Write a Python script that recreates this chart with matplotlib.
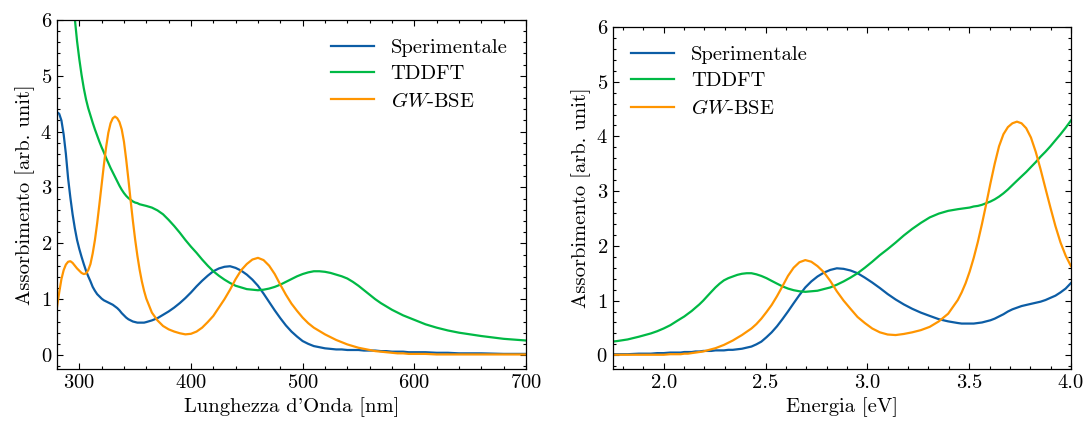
import numpy as np
import matplotlib
matplotlib.use("Agg")
import matplotlib.pyplot as plt
from matplotlib.ticker import MultipleLocator

plt.rcParams['font.family'] = ['cmr10', 'DejaVu Serif']
plt.rcParams['mathtext.fontset'] = 'cm'
plt.rcParams['axes.formatter.use_mathtext'] = True
plt.rcParams['font.size'] = 14.8

# wavelength grid [nm]
wavelength = [280, 282, 284, 286, 288, 290, 292, 294, 296, 298,
              300, 302, 304, 306, 308, 310, 312, 314, 316, 318,
              320, 322, 324, 326, 328, 330, 332, 334, 336, 338,
              340, 342, 344, 346, 348, 350, 352, 354, 356, 358,
              360, 365, 370, 375, 380, 385, 390, 395, 400, 405,
              410, 415, 420, 425, 430, 435, 440, 445, 450, 455,
              460, 465, 470, 475, 480, 485, 490, 495, 500, 505,
              510, 515, 520, 525, 530, 535, 540, 545, 550, 555,
              560, 565, 570, 575, 580, 585, 590, 595, 600, 610,
              620, 630, 640, 660, 680, 700, 710]

sperimentale = [4.35, 4.32, 4.20, 3.95, 3.60, 3.16, 2.82, 2.52, 2.27, 2.06,
                1.90, 1.76, 1.63, 1.51, 1.41, 1.32, 1.22, 1.15, 1.09, 1.05,
                1.01, 0.98, 0.96, 0.94, 0.92, 0.90, 0.87, 0.84, 0.80, 0.75,
                0.71, 0.67, 0.64, 0.62, 0.60, 0.59, 0.58, 0.58, 0.58, 0.58,
                0.59, 0.62, 0.66, 0.72, 0.78, 0.85, 0.93, 1.02, 1.12, 1.23,
                1.33, 1.42, 1.50, 1.55, 1.58, 1.59, 1.56, 1.51, 1.44, 1.35,
                1.24, 1.10, 0.95, 0.80, 0.66, 0.53, 0.42, 0.33, 0.25, 0.20,
                0.16, 0.14, 0.12, 0.11, 0.10, 0.10, 0.09, 0.09, 0.09, 0.08,
                0.08, 0.08, 0.07, 0.07, 0.06, 0.06, 0.06, 0.05, 0.05, 0.05,
                0.04, 0.04, 0.03, 0.03, 0.02, 0.02, 0.02]

tddft = [9.0, 8.5, 8.0, 7.5, 7.0, 6.75, 6.5, 6.25, 6.02, 5.62,
         5.30, 5.02, 4.78, 4.58, 4.42, 4.29, 4.16, 4.04, 3.93, 3.82,
         3.72, 3.63, 3.53, 3.44, 3.35, 3.27, 3.19, 3.11, 3.03, 2.96,
         2.90, 2.85, 2.81, 2.78, 2.75, 2.73, 2.72, 2.70, 2.69, 2.68,
         2.67, 2.64, 2.59, 2.52, 2.42, 2.31, 2.19, 2.06, 1.94, 1.83,
         1.71, 1.60, 1.50, 1.42, 1.35, 1.29, 1.24, 1.21, 1.18, 1.17,
         1.16, 1.17, 1.19, 1.22, 1.26, 1.31, 1.36, 1.41, 1.45, 1.48,
         1.50, 1.50, 1.49, 1.47, 1.44, 1.41, 1.37, 1.31, 1.24, 1.16,
         1.08, 1.00, 0.93, 0.87, 0.81, 0.76, 0.71, 0.67, 0.63, 0.55,
         0.49, 0.44, 0.40, 0.34, 0.29, 0.26, 0.25]

gw_bse = [0.85, 1.12, 1.36, 1.52, 1.62, 1.67, 1.68, 1.65, 1.60, 1.55,
          1.51, 1.47, 1.45, 1.46, 1.52, 1.63, 1.82, 2.06, 2.36, 2.70,
          3.05, 3.40, 3.72, 3.98, 4.15, 4.24, 4.27, 4.24, 4.17, 4.04,
          3.82, 3.50, 3.14, 2.76, 2.40, 2.07, 1.78, 1.53, 1.32, 1.15,
          1.01, 0.76, 0.62, 0.52, 0.46, 0.42, 0.39, 0.37, 0.38, 0.42,
          0.49, 0.59, 0.70, 0.85, 1.00, 1.17, 1.36, 1.52, 1.63, 1.71,
          1.74, 1.70, 1.60, 1.45, 1.26, 1.08, 0.92, 0.79, 0.67, 0.57,
          0.49, 0.43, 0.37, 0.32, 0.27, 0.23, 0.19, 0.16, 0.13, 0.11,
          0.09, 0.07, 0.06, 0.05, 0.04, 0.03, 0.03, 0.02, 0.02, 0.02,
          0.01, 0.01, 0.01, 0.01, 0.01, 0.01, 0.01]

labels = ['Sperimentale', 'TDDFT', r'$GW$-BSE']
colors = ['#0C5DA5', '#00B945', '#FF9500']

lam = np.array(wavelength, dtype=float)
energy = 1239.84 / lam
series = [sperimentale, tddft, gw_bse]

fig = plt.figure(figsize=(10.87, 4.23), dpi=100)
ax1 = fig.add_axes([0.0524, 0.1277, 0.4315, 0.8251])
ax2 = fig.add_axes([0.5637, 0.1277, 0.4216, 0.8085])

for ys, lab, c in zip(series, labels, colors):
    ax1.plot(lam, ys, color=c, lw=1.6, label=lab)
    ax2.plot(energy, ys, color=c, lw=1.6, label=lab)

ax1.set_xlim(280, 700)
ax2.set_xlim(1.75, 4.0)
for ax in (ax1, ax2):
    ax.set_ylim(-0.25, 6)
    ax.set_ylabel('Assorbimento [arb. unit]')
    ax.yaxis.set_major_locator(MultipleLocator(1))
    ax.yaxis.set_minor_locator(MultipleLocator(0.2))
    ax.tick_params(which='both', direction='in', top=True, right=True, width=0.8)
    ax.tick_params(which='major', length=4.3)
    ax.tick_params(which='minor', length=2.2)
    for sp in ax.spines.values():
        sp.set_linewidth(0.9)

ax1.xaxis.set_major_locator(MultipleLocator(100))
ax1.xaxis.set_minor_locator(MultipleLocator(20))
ax2.xaxis.set_major_locator(MultipleLocator(0.5))
ax2.xaxis.set_minor_locator(MultipleLocator(0.1))
ax2.xaxis.set_major_formatter(plt.FormatStrFormatter('%.1f'))

ax1.set_xlabel("Lunghezza d'Onda [nm]")
ax2.set_xlabel('Energia [eV]')

ax1.legend(loc='upper right', frameon=False, handlelength=2.1,
           handletextpad=0.8, labelspacing=0.4)
ax2.legend(loc='upper left', frameon=False, handlelength=2.1,
           handletextpad=0.8, labelspacing=0.4)

fig.savefig('out.png', dpi=100)
